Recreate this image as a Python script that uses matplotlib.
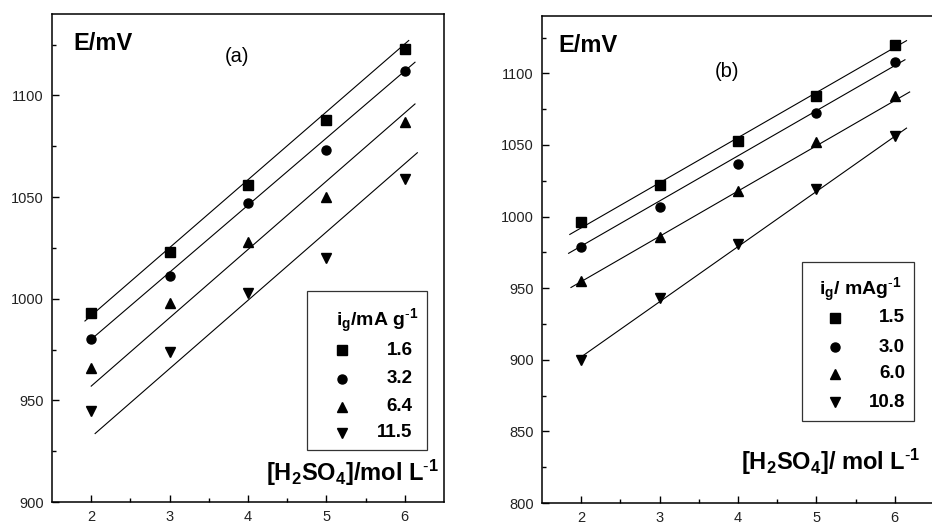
import numpy as np
import matplotlib
matplotlib.use('Agg')
import matplotlib.pyplot as plt
from matplotlib.patches import Rectangle

plt.rcParams['font.family'] = ['Liberation Sans', 'DejaVu Sans']
plt.rcParams['mathtext.fontset'] = 'custom'
plt.rcParams['mathtext.rm'] = 'Liberation Sans'
plt.rcParams['mathtext.bf'] = 'Liberation Sans:bold'
plt.rcParams['mathtext.it'] = 'Liberation Sans:italic'

# [H2SO4] / mol L-1
conc = [2, 3, 4, 5, 6]
markers = ['s', 'o', '^', 'v']

# panel (a)
a_labels = ['1.6', '3.2', '6.4', '11.5']
a_sq = [993, 1023, 1056, 1088, 1123]
a_ci = [980, 1011, 1047, 1073, 1112]
a_up = [966, 998, 1028, 1050, 1087]
a_dn = [945, 974, 1003, 1020, 1059]
a_slope = [33.4, 33.0, 33.6, 33.6]
a_icpt = [924.9, 914.0, 889.8, 864.8]
a_x0 = [1.92, 2.0, 2.0, 2.05]
a_x1 = [6.05, 6.13, 6.13, 6.16]

# panel (b)
b_labels = ['1.5', '3.0', '6.0', '10.8']
b_sq = [996, 1022, 1053, 1084, 1120]
b_ci = [979, 1007, 1037, 1072, 1108]
b_up = [955, 986, 1018, 1052, 1084]
b_dn = [900, 943, 981, 1019, 1056]
b_slope = [31.5, 31.5, 31.6, 38.5]
b_icpt = [929.1, 916.4, 891.4, 825.0]
b_x0 = [1.855, 1.84, 1.87, 2.0]
b_x1 = [6.15, 6.13, 6.19, 6.15]


def draw_panel(ax, series, slopes, icpts, x0s, x1s):
    for ys, m in zip(series, markers):
        ax.plot(conc, ys, linestyle='none', marker=m, color='black', markersize=6.5)
    for k, b, x0, x1 in zip(slopes, icpts, x0s, x1s):
        xx = np.array([x0, x1])
        ax.plot(xx, b + k * xx, color='black', linewidth=0.8)
    ax.set_xlim(1.5, 6.5)
    ax.set_xticks(conc)
    ax.set_xticks([2.5, 3.5, 4.5, 5.5], minor=True)
    ax.tick_params(which='both', direction='in', labelsize=10.5, width=1,
                   labelcolor='#222222')
    ax.tick_params(which='major', length=5, pad=6)
    ax.tick_params(which='minor', length=3)
    for s in ax.spines.values():
        s.set_linewidth(1.1)


def draw_key(ax, title, labels, box, title_xy, mx, tx, rows):
    x0, y0, x1, y1 = box
    ax.add_patch(Rectangle((x0, y0), x1 - x0, y1 - y0, transform=ax.transAxes,
                           fill=False, edgecolor='#333333', linewidth=0.9))
    ax.text(title_xy[0], title_xy[1], title, transform=ax.transAxes, ha='center',
            va='center', fontsize=14, fontweight='bold')
    for m, lab, ry in zip(markers, labels, rows):
        ax.plot([mx], [ry], marker=m, color='black', markersize=6.5,
                transform=ax.transAxes, clip_on=False)
        ax.text(tx, ry, lab, transform=ax.transAxes, ha='right', va='center',
                fontsize=13.5, fontweight='bold')


fig = plt.figure(figsize=(9.32, 5.27), dpi=100)
ax1 = fig.add_axes([0.0558, 0.0474, 0.4206, 0.926])
ax2 = fig.add_axes([0.5815, 0.0455, 0.4206, 0.924])

draw_panel(ax1, [a_sq, a_ci, a_up, a_dn], a_slope, a_icpt, a_x0, a_x1)
ax1.set_ylim(900, 1140)
ax1.set_yticks([900, 950, 1000, 1050, 1100])
ax1.set_yticks([925, 975, 1025, 1075, 1125], minor=True)

draw_panel(ax2, [b_sq, b_ci, b_up, b_dn], b_slope, b_icpt, b_x0, b_x1)
ax2.set_ylim(800, 1140)
ax2.set_yticks([800, 850, 900, 950, 1000, 1050, 1100])
ax2.set_yticks([825, 875, 925, 975, 1025, 1075, 1125], minor=True)

for ax, x in ((ax1, 0.054), (ax2, 0.041)):
    ax.text(x, 0.94, 'E/mV', transform=ax.transAxes, ha='left', va='center',
            fontsize=17, fontweight='bold')

ax1.text(0.472, 0.913, '(a)', transform=ax1.transAxes, ha='center', va='center', fontsize=14.5)
ax2.text(0.472, 0.886, '(b)', transform=ax2.transAxes, ha='center', va='center', fontsize=14.5)

ax1.text(0.987, 0.059, r'[H$_\mathbf{2}$SO$_\mathbf{4}$]/mol L$^{\text{-}\mathbf{1}}$',
         transform=ax1.transAxes, ha='right', va='center', fontsize=17, fontweight='bold')
ax2.text(0.967, 0.084, r'[H$_\mathbf{2}$SO$_\mathbf{4}$]/ mol L$^{\text{-}\mathbf{1}}$',
         transform=ax2.transAxes, ha='right', va='center', fontsize=17, fontweight='bold')

draw_key(ax1, r'$\mathbf{i_g}$/mA g$^{\text{-}\mathbf{1}}$', a_labels,
         (0.650, 0.107, 0.957, 0.432), (0.829, 0.371), 0.740, 0.920,
         [0.311, 0.253, 0.195, 0.142])
draw_key(ax2, r'$\mathbf{i_g}$/ mAg$^{\text{-}\mathbf{1}}$', b_labels,
         (0.663, 0.168, 0.949, 0.495), (0.811, 0.437), 0.747, 0.926,
         [0.380, 0.320, 0.265, 0.207])

fig.savefig('out.png', dpi=100)
